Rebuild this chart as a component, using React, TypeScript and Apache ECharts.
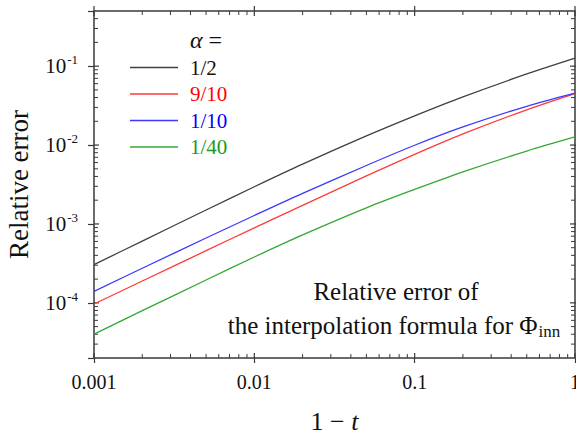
import React, { useEffect, useRef } from 'react';
import * as echarts from 'echarts';

// ---- data ----
const xValues = [0.001, 0.002, 0.005, 0.01, 0.02, 0.05, 0.1, 0.2, 0.5, 1];
const seriesNames = ['1/2', '9/10', '1/10', '1/40'];
const errHalf = [3.05e-4, 6.07e-4, 1.502e-3, 2.959e-3, 5.72e-3, 1.304e-2, 2.342e-2, 4.076e-2, 7.96e-2, 0.1266];
const errNineTenths = [9.66e-5, 1.89e-4, 4.58e-4, 8.91e-4, 1.72e-3, 4.06e-3, 7.62e-3, 1.384e-2, 2.8e-2, 4.49e-2];
const errOneTenth = [1.396e-4, 2.745e-4, 6.63e-4, 1.28e-3, 2.44e-3, 5.51e-3, 9.94e-3, 1.695e-2, 3.1e-2, 4.54e-2];
const errOneFortieth = [4.01e-5, 7.96e-5, 1.95e-4, 3.81e-4, 7.26e-4, 1.6e-3, 2.74e-3, 4.58e-3, 8.39e-3, 1.265e-2];

const xMajorTicks = [0.001, 0.01, 0.1, 1];
const xMinorTicks = [
  0.002, 0.003, 0.004, 0.005, 0.006, 0.007, 0.008, 0.009,
  0.02, 0.03, 0.04, 0.05, 0.06, 0.07, 0.08, 0.09,
  0.2, 0.3, 0.4, 0.5, 0.6, 0.7, 0.8, 0.9,
];
const yMajorTicks = [1e-4, 1e-3, 1e-2, 1e-1];
const yMinorTicks = [
  3e-5, 4e-5, 5e-5, 6e-5, 7e-5, 8e-5, 9e-5,
  2e-4, 3e-4, 4e-4, 5e-4, 6e-4, 7e-4, 8e-4, 9e-4,
  2e-3, 3e-3, 4e-3, 5e-3, 6e-3, 7e-3, 8e-3, 9e-3,
  2e-2, 3e-2, 4e-2, 5e-2, 6e-2, 7e-2, 8e-2, 9e-2,
  0.2, 0.3, 0.4,
];
const X_MIN = 0.001;
const X_MAX = 1;
const Y_MIN = 2e-5;
const Y_MAX = 0.5;
const X_MID = 0.03;
const Y_MID = 0.001;

// ---- styles ----
const FONT = '"Liberation Serif", "Times New Roman", serif';
const AX = '#3a3a3a';
const lineColors = ['#404040', '#ff3a3a', '#3a3aff', '#33a833'];
const textColors = ['#111111', '#ff0000', '#0000ff', '#1a9a1a'];

const isDecade = (v: number) => {
  const l = Math.log10(v);
  return Math.abs(l - Math.round(l)) < 1e-6;
};

function makeTexts(): any[] {
  return [
    {
      type: 'text',
      id: 'alpha',
      x: 190,
      y: 40,
      style: {
        text: '{a|α} =',
        fontFamily: FONT,
        fontSize: 24,
        fill: '#111',
        verticalAlign: 'middle',
        rich: { a: { fontFamily: FONT, fontSize: 24, fontStyle: 'italic', fill: '#111' } },
      },
    },
    {
      type: 'text',
      id: 'note1',
      x: 396,
      y: 291,
      style: {
        text: 'Relative error of',
        fontFamily: FONT,
        fontSize: 25,
        fill: '#111',
        align: 'center',
        verticalAlign: 'middle',
      },
    },
    {
      type: 'text',
      id: 'note2',
      x: 394,
      y: 325,
      style: {
        text: 'the interpolation formula for Φ{sub|inn}',
        fontFamily: FONT,
        fontSize: 25,
        fill: '#111',
        align: 'center',
        verticalAlign: 'middle',
        rich: { sub: { fontFamily: FONT, fontSize: 17, fill: '#111', padding: [12, 0, 0, 1] } },
      },
    },
  ];
}

export default function App() {
  const ref = useRef<HTMLDivElement>(null);
  useEffect(() => {
    if (!ref.current) return;
    const chart = echarts.init(ref.current, undefined, { renderer: 'svg' });
    const allSeries = [errHalf, errNineTenths, errOneTenth, errOneFortieth];

    const option: any = {
      animation: false,
      backgroundColor: '#ffffff',
      grid: {
        left: 94, right: 1, top: 11, bottom: 78,
        containLabel: false, outerBoundsMode: 'none',
        show: true, borderColor: AX, borderWidth: 1.5,
      },
      xAxis: {
        type: 'log',
        logBase: 10,
        min: X_MIN,
        max: X_MAX,
        axisLine: { show: false },
        axisTick: { show: true, inside: false, length: 5, lineStyle: { color: AX, width: 1.2 } },
        splitLine: { show: false },
        axisLabel: {
          show: true,
          margin: 14,
          fontFamily: FONT,
          fontSize: 20,
          color: '#111',
          formatter: (v: number) => (isDecade(v) ? String(Number(Number(v).toPrecision(1))) : ''),
        },
        name: '1 − {i|t}',
        nameLocation: 'middle',
        nameGap: 50,
        nameTextStyle: {
          fontFamily: FONT,
          fontSize: 26,
          color: '#111',
          rich: { i: { fontFamily: FONT, fontSize: 26, fontStyle: 'italic', color: '#111' } },
        },
      },
      yAxis: {
        type: 'log',
        logBase: 10,
        min: Y_MIN,
        max: Y_MAX,
        axisLine: { show: false },
        axisTick: { show: true, inside: false, length: 6, lineStyle: { color: AX, width: 1.2 } },
        splitLine: { show: false },
        axisLabel: {
          show: true,
          margin: 16,
          fontFamily: FONT,
          fontSize: 21,
          color: '#111',
          formatter: (v: number) => (isDecade(v) ? `10{sup|${Math.round(Math.log10(v))}}` : ''),
          rich: {
            sup: { fontFamily: FONT, fontSize: 13, color: '#111', padding: [0, 0, 13, 1] },
          },
        },
        name: 'Relative error',
        nameLocation: 'middle',
        nameGap: 62,
        nameTextStyle: { fontFamily: FONT, fontSize: 27, color: '#111' },
      },
      legend: {
        orient: 'vertical',
        left: 130,
        top: 57,
        itemWidth: 48,
        itemHeight: 1.4,
        itemGap: 5.5,
        padding: 0,
        icon: 'rect',
        textStyle: { fontFamily: FONT, fontSize: 21, lineHeight: 20, padding: [0, 0, 0, 7] },
        data: seriesNames.map((n, i) => ({ name: n, icon: 'rect', textStyle: { color: textColors[i] } })),
      },
      graphic: makeTexts(),
      series: allSeries.map((vals, i) => ({
        name: seriesNames[i],
        type: 'line',
        symbol: 'none',
        smooth: 0.3,
        lineStyle: { color: lineColors[i], width: 1.3 },
        itemStyle: { color: lineColors[i] },
        data: xValues.map((x, k) => [x, vals[k]]),
      })),
    };
    chart.setOption(option);

    try {
      const conv = (p: number[]) => {
        const r = chart.convertToPixel({ xAxisIndex: 0, yAxisIndex: 0 } as any, p) as any;
        return r && Number.isFinite(r[0]) && Number.isFinite(r[1]) ? r : null;
      };
      // pixel of an x value (nudged just inside the extent if the edge itself does not convert)
      const xPx = (v: number) => {
        let r = conv([v, Y_MID]);
        if (!r) r = conv([v <= X_MIN ? v * 1.0001 : v >= X_MAX ? v * 0.9999 : v, Y_MID]);
        return r ? r[0] : NaN;
      };
      const yPx = (v: number) => {
        let r = conv([X_MID, v]);
        if (!r) r = conv([X_MID, v <= Y_MIN ? v * 1.0001 : v >= Y_MAX ? v * 0.9999 : v]);
        return r ? r[1] : NaN;
      };
      const left = xPx(X_MIN);
      const right = xPx(X_MAX);
      const bottom = yPx(Y_MIN);
      const top = yPx(Y_MAX);

      const tickLines: any[] = [];
      const addLine = (id: string, x1: number, y1: number, x2: number, y2: number, w: number) => {
        if (![x1, y1, x2, y2].every((n) => Number.isFinite(n))) return;
        tickLines.push({
          type: 'line',
          id,
          shape: { x1, y1, x2, y2 },
          style: { stroke: AX, lineWidth: w },
        });
      };
      xMajorTicks.forEach((v, i) => {
        const x = xPx(v);
        addLine('xbM' + i, x, bottom, x, bottom - 5, 1.2);
        addLine('xtM' + i, x, top - 5, x, top + 5, 1.2);
      });
      xMinorTicks.forEach((v, i) => {
        const x = xPx(v);
        addLine('xbm' + i, x, bottom, x, bottom - 4, 1);
        addLine('xtm' + i, x, top, x, top + 4, 1);
      });
      yMajorTicks.forEach((v, i) => {
        const y = yPx(v);
        addLine('ylM' + i, left, y, left + 5, y, 1.2);
        addLine('yrM' + i, right + 6, y, right - 5, y, 1.2);
      });
      yMinorTicks.forEach((v, i) => {
        const y = yPx(v);
        addLine('ylm' + i, left, y, left + 4, y, 1);
        addLine('yrm' + i, right, y, right - 4, y, 1);
      });
      chart.setOption({ graphic: [...makeTexts(), ...tickLines] });
    } catch (e) {
      // keep the chart as drawn if tick placement fails
    }

    return () => chart.dispose();
  }, []);
  return (
    <div
      ref={ref}
      style={{ position: 'fixed', left: 0, top: 0, width: 576, height: 436, background: '#fff' }}
    />
  );
}
